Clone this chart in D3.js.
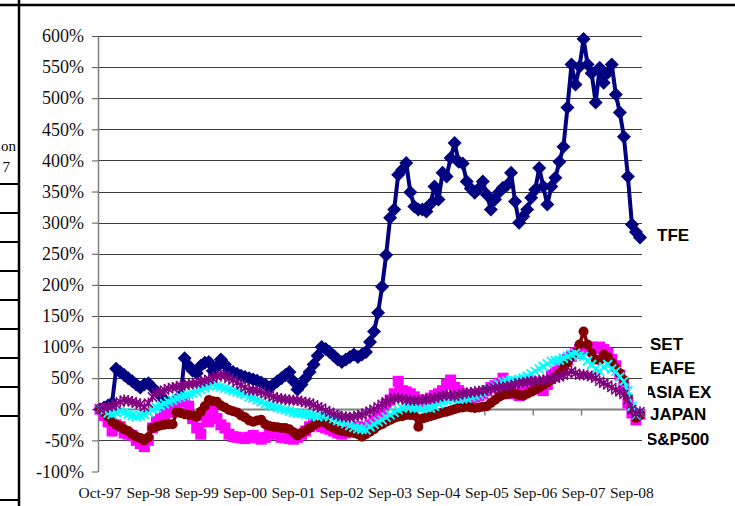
<!DOCTYPE html>
<html>
<head>
<meta charset="utf-8">
<script src="https://cdn.jsdelivr.net/npm/d3@7"></script>
<style>
  body { margin: 0; background: #fff; }
  svg { display: block; }
</style>
</head>
<body>
<script>
// x tick labels, one every 12 months
var tickLabels = ["Oct-97", "Sep-98", "Sep-99", "Sep-00", "Sep-01", "Sep-02",
                  "Sep-03", "Sep-04", "Sep-05", "Sep-06", "Sep-07", "Sep-08"];
var yTicks = [-100, -50, 0, 50, 100, 150, 200, 250, 300, 350, 400, 450, 500, 550, 600];

// cumulative returns in %, monthly
var tfe = [0,3,6,10,65,60,55,50,45,40,
  35,40,42,35,28,22,15,5,10,15,
  22,82,70,62,58,70,75,76,62,68,
  80,72,62,60,57,54,52,50,48,46,
  43,40,35,40,45,50,55,60,45,32,
  40,50,60,72,86,100,97,92,86,80,
  76,80,84,88,84,88,92,108,125,155,
  197,248,308,321,377,385,396,349,326,321,
  321,318,330,358,337,380,374,404,428,398,
  395,366,355,348,355,366,345,321,337,349,
  356,360,380,334,300,310,321,340,353,388,
  358,329,358,372,398,422,485,554,522,551,
  595,554,540,493,549,525,541,554,506,477,
  438,374,297,285,276];

var sp500 = [0,-10,-20,-35,-25,-28,-38,-40,-42,-50,
  -55,-60,-50,-30,-20,-15,-10,-5,5,10,
  15,12,5,-15,-30,-40,-10,-20,0,-15,
  -25,-30,-40,-44,-45,-46,-47,-45,-42,-46,
  -48,-45,-40,-35,-40,-45,-46,-47,-48,-45,
  -40,-35,-28,-22,-25,-28,-30,-32,-35,-38,
  -40,-38,-35,-30,-28,-30,-32,-25,-18,-10,
  0,8,15,25,45,30,28,25,20,15,
  12,15,18,22,25,30,40,47,35,30,
  25,15,18,20,22,25,30,35,38,42,
  50,35,30,25,22,28,35,45,40,35,
  30,40,55,60,70,75,80,85,90,96,
  98,100,100,98,100,96,90,80,70,55,
  35,10,-6,-17,-8];

var set = [0,-5,-12,-20,-25,-28,-32,-35,-40,-44,
  -46,-50,-45,-30,-28,-26,-25,-24,-24,-5,
  -6,-8,-9,-10,-12,-4,5,15,13,12,
  6,3,-1,-3,-5,-10,-13,-18,-20,-18,
  -17,-24,-27,-28,-29,-30,-30,-32,-37,-42,
  -38,-34,-30,-26,-22,-19,-22,-27,-30,-33,
  -35,-36,-37,-38,-40,-44,-40,-36,-32,-27,
  -24,-20,-17,-14,-12,-11,-9,-9,-10,-28,
  -15,-13,-11,-9,-7,-5,-4,-2,0,2,
  3,4,3,2,3,4,5,10,15,20,
  23,24,26,25,23,22,25,28,31,35,
  39,43,47,52,58,66,75,85,90,104,
  125,104,90,80,79,88,84,75,66,58,
  47,20,0,-14,-9];

var eafe = [0,-2,-6,-8,-5,-3,-5,-8,-10,-12,
  -10,-8,-5,0,3,6,9,12,15,18,
  20,22,24,26,28,32,35,38,40,38,
  36,34,32,30,28,26,24,20,18,15,
  12,9,7,5,3,1,-1,-3,-5,-6,
  -7,-8,-9,-10,-12,-10,-9,-12,-15,-18,
  -20,-23,-26,-29,-31,-32,-33,-28,-24,-20,
  -17,-13,-9,-5,-1,2,5,4,2,2,
  1,3,2,5,9,13,15,17,17,16,
  17,18,20,22,24,27,31,33,36,40,
  44,45,47,46,48,50,53,57,61,65,
  69,73,77,78,79,82,85,88,90,86,
  85,78,72,65,61,68,72,65,61,52,
  45,30,5,-9,-4];

var asiaExJapan = [0,2,4,5,8,12,15,14,12,10,
  8,4,10,20,26,28,31,33,35,36,
  38,39,40,41,42,44,46,48,50,53,
  55,54,50,47,43,39,35,31,31,30,
  28,25,23,20,18,17,16,15,15,14,
  13,11,10,7,4,2,-2,-5,-8,-10,
  -12,-12,-13,-12,-10,-9,-6,-3,0,4,
  8,12,15,18,18,17,15,15,14,15,
  15,16,17,18,20,22,23,22,21,23,
  25,26,27,28,29,30,31,33,34,35,
  36,37,38,40,42,43,44,45,45,46,
  47,48,49,50,52,55,58,61,58,55,
  56,54,53,50,45,42,39,35,31,28,
  24,15,0,-7,-4];

var width = 735,
    height = 506;

var svg = d3.select("body").append("svg")
    .attr("width", width)
    .attr("height", height);

// page frame (the chart sits in a table cell)
svg.append("line").attr("x1", 0).attr("x2", width).attr("y1", 5).attr("y2", 5)
    .attr("stroke", "#000").attr("stroke-width", 2.5);
svg.append("line").attr("x1", 19).attr("x2", 19).attr("y1", 0).attr("y2", height)
    .attr("stroke", "#000").attr("stroke-width", 2.5);
svg.selectAll(".rowline")
    .data([184, 213, 242, 271, 300, 329, 358, 387, 416, 500])
  .enter().append("line")
    .attr("x1", 0).attr("x2", 19)
    .attr("y1", function(d) { return d; }).attr("y2", function(d) { return d; })
    .attr("stroke", "#000").attr("stroke-width", 2);
svg.append("text").attr("x", 16).attr("y", 151).attr("text-anchor", "end")
    .style("font", "15px 'Liberation Serif', 'Times New Roman', serif").text("on");
svg.append("text").attr("x", 10).attr("y", 172).attr("text-anchor", "end")
    .style("font", "15px 'Liberation Serif', 'Times New Roman', serif").text("7");

var n = tfe.length;

var x = d3.scaleBand()
    .domain(d3.range(n))
    .range([98, 642]);
var bw = x.bandwidth();
function cx(i) { return x(i) + bw / 2; }

var y = d3.scaleLinear()
    .domain([-100, 600])
    .range([471.5, 36]);

// gridlines
svg.append("g").selectAll("line")
    .data(yTicks.filter(function(d) { return d !== 0 && d !== -100; }))
  .enter().append("line")
    .attr("x1", 98).attr("x2", 642)
    .attr("y1", function(d) { return Math.round(y(d)) + 0.5; })
    .attr("y2", function(d) { return Math.round(y(d)) + 0.5; })
    .attr("stroke", "#3c3c3c").attr("stroke-width", 1);

// y axis
var yAxis = svg.append("g")
    .attr("transform", "translate(98,0)")
    .call(d3.axisLeft(y).tickValues(yTicks)
      .tickFormat(function(d) { return d + "%"; })
      .tickSize(6).tickSizeOuter(0).tickPadding(8));
yAxis.select(".domain").attr("stroke", "#808080").attr("stroke-width", 1.5);
yAxis.selectAll(".tick line").attr("stroke", "#555");
yAxis.selectAll("text")
    .style("font-family", "'Liberation Serif', 'Times New Roman', serif")
    .style("font-size", "18px")
    .attr("fill", "#111");

// x axis line at 0%, ticks on month boundaries, labels at the bottom
var y0 = Math.round(y(0)) + 0.5;
var tickIdx = tickLabels.map(function(d, k) { return k * 12; });
svg.append("line").attr("x1", 98).attr("x2", 642).attr("y1", y0).attr("y2", y0)
    .attr("stroke", "#808080").attr("stroke-width", 2);
svg.append("g").selectAll("line")
    .data(tickIdx)
  .enter().append("line")
    .attr("x1", function(d) { return x(d); }).attr("x2", function(d) { return x(d); })
    .attr("y1", y0).attr("y2", y0 + 6)
    .attr("stroke", "#808080").attr("stroke-width", 1.5);
svg.append("g").selectAll("text")
    .data(tickLabels)
  .enter().append("text")
    .attr("x", function(d, k) { return cx(k * 12); })
    .attr("y", 498)
    .attr("text-anchor", "middle")
    .style("font-family", "'Liberation Serif', 'Times New Roman', serif")
    .style("font-size", "15.5px")
    .attr("fill", "#111")
    .text(function(d) { return d; });

// series
var series = [
  {name: "TFE", values: tfe, color: "#000080", width: 4, marker: "diamond"},
  {name: "S&P500", values: sp500, color: "#ff00ff", width: 3.5, marker: "square"},
  {name: "SET", values: set, color: "#800000", width: 3.5, marker: "circle"},
  {name: "EAFE", values: eafe, color: "#00ffff", width: 2.5, marker: "x"},
  {name: "ASIA EX JAPAN", values: asiaExJapan, color: "#800080", width: 2.5, marker: "star"}
];

var line = d3.line()
    .x(function(d, i) { return cx(i); })
    .y(function(d) { return y(d); });

series.forEach(function(s) {
  var g = svg.append("g");
  g.append("path")
      .attr("d", line(s.values))
      .attr("fill", "none")
      .attr("stroke", s.color)
      .attr("stroke-width", s.width)
      .attr("stroke-linejoin", "round");

  var m = g.selectAll(".m")
      .data(s.values)
    .enter().append("g")
      .attr("transform", function(d, i) { return "translate(" + cx(i) + "," + y(d) + ")"; });

  if (s.marker === "diamond") {
    m.append("path").attr("d", "M0,-7L7,0L0,7L-7,0Z").attr("fill", s.color);
  } else if (s.marker === "square") {
    m.append("rect").attr("x", -5.5).attr("y", -5.5).attr("width", 11).attr("height", 11)
      .attr("fill", s.color);
  } else if (s.marker === "circle") {
    m.append("circle").attr("r", 5).attr("fill", s.color);
  } else if (s.marker === "x") {
    m.append("path").attr("d", "M-4.5,-4.5L4.5,4.5M-4.5,4.5L4.5,-4.5")
      .attr("stroke", s.color).attr("stroke-width", 2);
  } else {
    m.append("path").attr("d", "M-4.5,-4.5L4.5,4.5M-4.5,4.5L4.5,-4.5M0,-5.5L0,5.5")
      .attr("stroke", s.color).attr("stroke-width", 1.6);
  }
});

// series labels on the right, clipped by their text box
svg.append("clipPath").attr("id", "lblclip")
  .append("rect").attr("x", 648).attr("y", 0).attr("width", 90).attr("height", height);

var labels = [
  {text: "TFE", x: 657, y: 235},
  {text: "SET", x: 650, y: 344},
  {text: "EAFE", x: 650, y: 368},
  {text: "ASIA EX", x: 644, y: 392},
  {text: "JAPAN", x: 650, y: 414},
  {text: "S&P500", x: 646, y: 439}
];

svg.append("g").attr("clip-path", "url(#lblclip)")
  .selectAll("text")
    .data(labels)
  .enter().append("text")
    .attr("x", function(d) { return d.x; })
    .attr("y", function(d) { return d.y + 6; })
    .style("font-family", "'Liberation Sans', Arial, sans-serif")
    .style("font-size", "17px")
    .style("font-weight", "bold")
    .attr("fill", "#000")
    .text(function(d) { return d.text; });
</script>
</body>
</html>
